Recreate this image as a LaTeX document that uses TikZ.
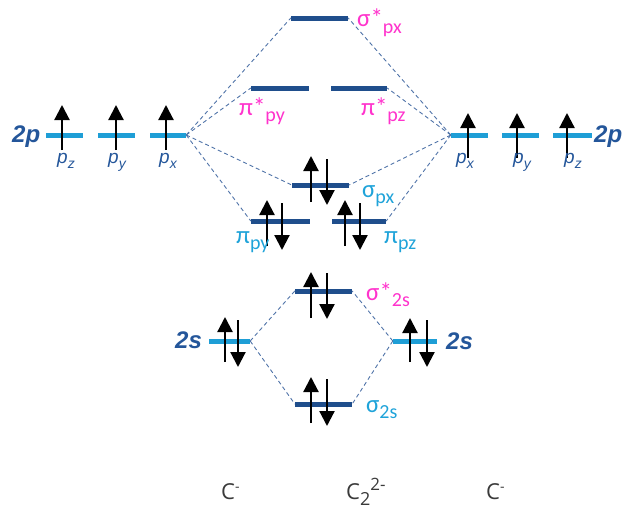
\documentclass[tikz,border=0pt]{standalone}
\usepackage{fontspec}
\setmainfont{Carlito}
\newfontfamily\arialf{Liberation Sans}
\newfontfamily\opensf{Open Sans}
\usetikzlibrary{arrows.meta,calc}
\definecolor{levdark}{HTML}{1F4E8C}
\definecolor{levlight}{HTML}{1E9ED6}
\definecolor{dashc}{HTML}{4F73A8}
\definecolor{pinkc}{HTML}{FF33CC}
\definecolor{cyanc}{HTML}{1FA3D9}
\definecolor{bluet}{HTML}{24569A}
\definecolor{grayt}{HTML}{3A3A3A}
\newcommand\molab[3]{\fontsize{25}{25}\selectfont #1#2\raisebox{-6pt}{\fontsize{20}{20}\selectfont #3}}
\newcommand\orblab[2]{\arialf\itshape\fontsize{19}{19}\selectfont #1\raisebox{-5pt}{\fontsize{14}{14}\selectfont #2}}
\begin{document}
\begin{tikzpicture}[x=1pt,y=-1pt,
  levd/.style={fill=levdark,draw=none,inner sep=0pt,minimum height=5pt,rectangle},
  levl/.style={fill=levlight,draw=none,inner sep=0pt,minimum height=5pt,rectangle},
  conn/.style={draw=dashc,dash pattern=on 4pt off 3pt,line width=0.9pt},
  spin/.style={line width=2.2pt,-{Triangle[length=15pt,width=15pt]}},
  pinklab/.style={text=pinkc,anchor=base west,inner sep=0pt},
  cyanlab/.style={text=cyanc,anchor=base west,inner sep=0pt},
  atomlab/.style={text=bluet,anchor=base west,inner sep=0pt,font=\arialf\bfseries\itshape\fontsize{24}{24}\selectfont},
  plab/.style={text=bluet,anchor=base west,inner sep=0pt},
  species/.style={text=grayt,anchor=base west,inner sep=0pt,font=\opensf\fontsize{22}{22}\selectfont}]
\useasboundingbox (0,0) rectangle (624,514);
% molecular levels
\node[levd,minimum width=57pt] (sxs) at (319.5,18) {};
\node[levd,minimum width=58pt] (pys) at (280,88) {};
\node[levd,minimum width=56pt] (pzs) at (359,88) {};
\node[levd,minimum width=57pt] (sx) at (320.5,185) {};
\node[levd,minimum width=59pt] (py) at (280.5,221) {};
\node[levd,minimum width=54pt] (pz) at (359,221) {};
\node[levd,minimum width=57pt] (sss) at (323.5,291) {};
\node[levd,minimum width=57pt] (ss) at (323.5,404) {};
% atomic levels
\node[levl,minimum width=41pt] (ls) at (229.5,341) {};
\node[levl,minimum width=44pt] (rs) at (415,341) {};
\node[levl,minimum width=37pt] (lpz) at (64.5,135) {};
\node[levl,minimum width=37pt] (lpy) at (116.5,135) {};
\node[levl,minimum width=36pt] (lpx) at (168,135) {};
\node[levl,minimum width=37pt] (rpx) at (469.5,135) {};
\node[levl,minimum width=37pt] (rpy) at (520.5,135) {};
\node[levl,minimum width=39pt] (rpz) at (572.5,135) {};
% correlation lines
\draw[conn] (lpx.east) -- (sxs.west);
\draw[conn] (lpx.east) -- (pys.west);
\draw[conn] (lpx.east) -- (sx.west);
\draw[conn] (lpx.east) -- (py.west);
\draw[conn] (rpx.west) -- (sxs.east);
\draw[conn] (rpx.west) -- (pzs.east);
\draw[conn] (rpx.west) -- (sx.east);
\draw[conn] (rpx.west) -- (pz.east);
\draw[conn] (ls.east) -- (sss.west);
\draw[conn] (ls.east) -- (ss.west);
\draw[conn] (rs.west) -- (sss.east);
\draw[conn] (rs.west) -- (ss.east);
% electrons
\draw[spin] (62,150) -- (62,105);
\draw[spin] (116,150) -- (116,105);
\draw[spin] (166,150) -- (166,105);
\draw[spin] (468,158) -- (468,113);
\draw[spin] (517,158) -- (517,113);
\draw[spin] (567,158) -- (567,113);
\draw[spin] (311,202) -- (311,156);
\draw[spin] (327,159) -- (327,205);
\draw[spin] (267,246) -- (267,200);
\draw[spin] (282,203) -- (282,250);
\draw[spin] (345,246) -- (345,200);
\draw[spin] (360,203) -- (360,250);
\draw[spin] (311,318) -- (311,272);
\draw[spin] (327,273) -- (327,319);
\draw[spin] (311,423) -- (311,377);
\draw[spin] (327,379) -- (327,426);
\draw[spin] (225,362) -- (225,317);
\draw[spin] (238,320) -- (238,367);
\draw[spin] (410,362) -- (410,318);
\draw[spin] (427,320) -- (427,367);
% labels
\node[pinklab] (lsxs) at (357,27) {\molab{σ}{*}{px}};
\node[pinklab] (lpys) at (239,115) {\molab{π}{*}{py}};
\node[pinklab] (lpzs) at (361,115) {\molab{π}{*}{pz}};
\node[cyanlab] (lsx) at (362,197) {\molab{σ}{}{px}};
\node[cyanlab] (lpy) at (236,243) {\molab{π}{}{py}};
\node[cyanlab] (lpz2) at (384,243) {\molab{π}{}{pz}};
\node[pinklab] (lsss) at (366,300) {\molab{σ}{*}{2s}};
\node[cyanlab] (lss) at (366,412) {\molab{σ}{}{2s}};
\node[atomlab] (l2p) at (12,142) {2p};
\node[atomlab] (r2p) at (594,142) {2p};
\node[atomlab] (l2s) at (175,348) {2s};
\node[atomlab] (r2s) at (446,349) {2s};
\node[plab] (tpz) at (57,163) {\orblab{p}{z}};
\node[plab] (tpy) at (108,163) {\orblab{p}{y}};
\node[plab] (tpx) at (159,163) {\orblab{p}{x}};
\node[plab] (upx) at (456,163) {\orblab{p}{x}};
\node[plab] (upy) at (513,163) {\orblab{p}{y}};
\node[plab] (upz) at (564,163) {\orblab{p}{z}};
\node[species] (cl) at (221,499) {C\raisebox{8pt}{\fontsize{14}{14}\selectfont -}};
\node[species] (cc) at (346,499) {C\raisebox{-6pt}{\fontsize{18}{18}\selectfont 2}\raisebox{9pt}{\fontsize{17}{17}\selectfont 2-}};
\node[species] (cr) at (486,499) {C\raisebox{8pt}{\fontsize{14}{14}\selectfont -}};
\end{tikzpicture}
\end{document}
